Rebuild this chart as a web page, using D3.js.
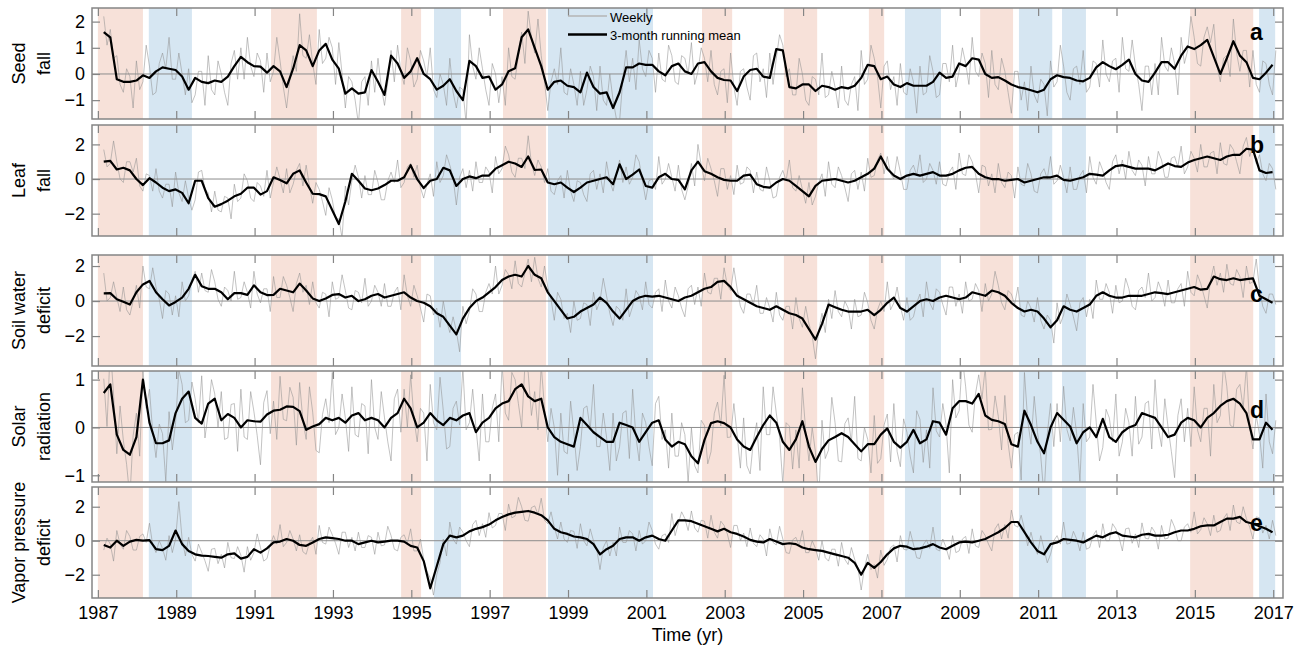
<!DOCTYPE html>
<html>
<head>
<meta charset="utf-8">
<script src="https://cdn.jsdelivr.net/npm/d3@7"></script>
<style>
  body { margin: 0; background: #fff; }
  text { font-family: "Liberation Sans", Arial, Helvetica, sans-serif; }
</style>
</head>
<body>
<div id="chart"></div>
<script>
// sampling of the two series, in decimal years
const meanStart = 1987.15, meanStep = 1 / 6;
const weeklyStart = 1987.15, weeklyStep = 1 / 12;

// 3-month running means (one value every 2 months)
const seedMean = [1.6,1.4,-0.2,-0.3,-0.3,-0.25,-0.05,-0.15,0.1,0.25,
0.2,0.15,-0.1,-0.6,-0.15,-0.3,-0.35,-0.25,-0.3,-0.1,
0.3,0.65,0.45,0.3,0.28,0.05,0.3,0.1,-0.5,0.2,
1.1,0.9,0.3,0.9,1.15,0.55,0.2,-0.75,-0.55,-0.75,
-0.7,0.15,-0.3,-0.8,0.7,0.4,-0.15,0.1,0.6,0.0,
-0.2,-0.6,-0.45,-0.2,-0.65,-1.0,0.5,0.3,-0.15,-0.1,
-0.6,-0.4,0.1,0.22,1.4,1.7,1.0,0.3,-0.6,-0.3,
-0.25,-0.45,-0.5,-0.7,0.05,-0.5,-0.75,-0.7,-1.3,-0.7,
0.25,0.25,0.4,0.35,0.35,0.1,-0.05,0.3,0.4,0.1,
0.0,0.4,0.45,0.1,-0.15,-0.23,-0.25,-0.65,-0.1,0.15,
0.2,-0.1,-0.15,0.95,0.9,-0.5,-0.55,-0.4,-0.4,-0.65,
-0.45,-0.5,-0.6,-0.5,-0.55,-0.45,-0.15,0.35,0.3,-0.2,
-0.1,-0.4,-0.5,-0.35,-0.45,-0.45,-0.45,-0.3,0.05,-0.15,
-0.1,0.4,0.3,0.6,0.55,0.0,-0.15,-0.12,-0.25,-0.4,
-0.5,-0.55,-0.62,-0.7,-0.6,-0.2,-0.05,-0.12,-0.15,-0.25,
-0.28,-0.15,0.25,0.45,0.3,0.18,0.35,0.55,0.0,-0.25,
-0.3,0.05,0.45,0.45,0.2,0.7,1.05,0.95,1.1,1.3,
0.65,0.0,0.6,1.25,0.7,0.45,-0.15,-0.2,0.05,0.35];

const leafMean = [1.0,1.05,0.55,0.65,0.5,0.0,-0.35,0.05,-0.2,-0.5,
-0.7,-0.6,-0.8,-1.4,-0.1,-0.1,-1.1,-1.6,-1.45,-1.25,
-1.0,-0.85,-0.5,-0.5,-0.9,-0.7,0.1,-0.06,-0.25,0.3,
0.5,-0.2,-0.85,-0.87,-1.0,-1.8,-2.6,-1.3,0.3,-0.1,
-0.55,-0.65,-0.55,-0.35,-0.1,-0.1,0.1,0.8,0.0,-0.52,
-0.1,0.0,0.65,0.5,-0.4,0.0,0.15,0.05,0.2,0.2,
0.6,0.8,1.0,0.9,0.7,1.3,0.52,0.55,-0.2,-0.3,
-0.2,-0.5,-0.75,-0.5,-0.2,-0.1,0.0,0.1,-0.3,0.85,
0.0,0.25,0.55,-0.4,-0.5,0.1,0.3,0.0,-0.05,-0.6,
0.5,1.0,0.45,0.3,0.1,-0.05,-0.1,-0.1,0.2,0.25,
-0.3,-0.45,-0.5,-0.2,0.0,-0.1,-0.4,-0.7,-1.0,-0.4,
-0.1,-0.05,0.0,-0.1,-0.2,-0.1,0.1,0.3,0.6,1.3,
0.6,0.2,0.0,0.2,0.3,0.2,0.3,0.4,0.2,0.2,
0.3,0.5,0.65,0.7,0.3,0.1,0.0,0.0,-0.1,-0.05,
0.0,-0.2,-0.1,0.0,0.1,0.1,0.2,-0.05,-0.1,0.0,
0.1,0.3,0.25,0.2,0.5,0.75,0.8,0.7,0.6,0.6,
0.6,0.5,0.7,0.9,0.75,0.7,0.95,1.1,1.2,1.3,
1.2,1.1,1.3,1.4,1.4,1.75,1.7,0.5,0.35,0.4];

const soilMean = [0.44,0.45,0.1,-0.04,-0.2,0.5,0.95,1.15,0.5,0.1,
-0.25,-0.05,0.2,0.7,1.5,0.85,0.7,0.7,0.5,0.1,
0.45,0.45,0.35,0.9,0.5,0.34,0.35,0.7,0.6,0.5,
1.0,0.6,0.15,0.0,0.15,0.35,0.4,0.2,0.3,0.0,
0.1,0.3,0.4,0.2,0.3,0.4,0.5,0.2,0.0,-0.1,
-0.3,-0.7,-0.9,-1.4,-1.9,-1.0,-0.4,0.0,0.2,0.5,
0.8,1.2,1.4,1.5,1.4,2.0,1.5,1.3,0.5,0.0,
-0.5,-1.0,-0.9,-0.6,-0.4,-0.2,0.2,-0.1,-0.6,-1.0,
-0.5,0.0,0.2,0.3,0.25,0.3,0.2,0.1,0.0,0.2,
0.3,0.5,0.7,0.8,1.1,1.15,0.8,0.3,0.1,-0.1,
-0.3,-0.4,-0.5,-0.3,-0.5,-0.7,-0.8,-1.0,-1.6,-2.2,
-1.3,-0.2,-0.35,-0.5,-0.6,-0.6,-0.6,-0.5,-0.8,-0.5,
-0.1,0.2,-0.4,-0.6,-0.3,0.0,0.1,0.0,0.2,0.3,
0.2,0.1,0.2,0.5,0.4,0.3,0.6,0.5,0.3,-0.1,
-0.4,-0.6,-0.5,-0.6,-1.0,-1.5,-1.1,-0.3,-0.5,-0.6,
-0.4,-0.2,0.3,0.5,0.3,0.2,0.2,0.3,0.3,0.3,
0.4,0.5,0.45,0.4,0.5,0.6,0.7,0.8,0.65,0.7,
1.4,1.25,1.2,1.3,1.2,1.25,1.3,0.3,0.1,-0.1];

const solarMean = [0.72,0.9,-0.15,-0.47,-0.57,-0.2,1.0,0.1,-0.33,-0.33,
-0.27,0.3,0.6,0.75,0.2,0.08,0.5,0.6,0.15,0.28,
0.2,0.0,0.15,0.13,0.12,0.27,0.35,0.37,0.44,0.43,
0.34,-0.05,0.02,0.07,0.2,0.15,0.2,0.1,0.25,0.3,
0.15,0.2,0.15,0.0,0.2,0.3,0.6,0.4,0.0,0.1,
0.3,0.15,0.05,0.2,0.15,0.25,0.3,-0.1,0.1,0.2,
0.4,0.5,0.55,0.8,0.9,0.65,0.55,0.6,0.0,-0.2,
-0.3,-0.35,-0.4,0.2,0.05,-0.1,-0.2,-0.3,-0.3,0.1,
0.05,0.0,-0.3,-0.1,0.1,0.15,-0.25,-0.4,-0.3,-0.35,
-0.6,-0.75,-0.26,0.09,0.13,0.09,0.0,-0.25,-0.4,-0.47,
-0.2,0.05,0.25,0.1,-0.3,-0.47,-0.25,0.13,-0.4,-0.72,
-0.45,-0.27,-0.2,-0.12,-0.2,-0.35,-0.5,-0.35,-0.35,-0.15,
-0.02,-0.3,-0.42,-0.3,-0.05,-0.33,-0.25,0.13,0.1,-0.15,
0.4,0.55,0.55,0.5,0.7,0.25,0.16,0.13,0.07,-0.35,
-0.4,0.35,0.05,-0.3,-0.54,0.0,0.3,0.16,0.02,-0.33,
-0.1,0.0,-0.2,0.18,-0.2,-0.3,-0.1,0.0,0.05,0.3,
0.25,0.2,0.0,-0.2,-0.15,0.1,0.2,0.15,0.0,0.2,
0.3,0.45,0.55,0.6,0.5,0.3,-0.25,-0.25,0.1,-0.05];

const vpdMean = [-0.25,-0.4,0.0,-0.3,-0.05,0.05,0.0,0.03,-0.5,-0.55,
-0.3,0.6,-0.2,-0.6,-0.8,-0.88,-0.9,-0.95,-1.0,-0.8,
-0.75,-1.05,-0.95,-0.5,-0.7,-0.45,-0.1,-0.05,0.1,0.0,
-0.25,-0.3,-0.1,0.1,0.2,0.15,0.1,0.0,0.0,-0.2,
-0.1,0.0,-0.1,-0.05,0.0,0.0,-0.05,-0.3,-0.4,-1.2,
-2.8,-1.5,-0.2,0.3,0.2,0.3,0.55,0.7,0.8,0.95,
1.2,1.4,1.55,1.65,1.7,1.75,1.65,1.5,1.2,0.7,
0.5,0.4,0.25,0.2,0.1,-0.2,-0.8,-0.5,-0.3,0.1,
0.2,0.2,0.0,0.2,0.3,0.1,0.0,0.6,1.2,1.2,
1.15,1.0,0.85,0.7,0.55,0.7,0.5,0.4,0.25,0.05,
-0.05,-0.1,0.1,-0.05,-0.2,-0.15,-0.2,-0.4,-0.5,-0.55,
-0.6,-0.7,-0.8,-0.9,-1.0,-1.3,-2.0,-1.3,-1.6,-1.25,
-0.8,-0.45,-0.3,-0.35,-0.5,-0.45,-0.35,-0.2,-0.4,-0.5,
-0.3,-0.1,-0.05,-0.1,0.0,0.1,0.3,0.5,0.75,1.1,
1.1,0.5,-0.1,-0.6,-0.8,-0.2,-0.1,0.1,0.05,0.0,
-0.1,0.1,0.3,0.2,0.4,0.5,0.3,0.25,0.2,0.35,
0.4,0.3,0.3,0.35,0.5,0.6,0.6,0.7,0.85,0.9,
0.9,1.1,1.3,1.3,1.4,1.1,1.0,0.85,0.7,0.5];

// weekly anomalies, thinned to one value per month
const seedWeekly = [2.2,1.1,1.7,0.6,0.7,-0.4,-0.7,0.2,-0.1,-1.3,0.5,-0.6,-0.3,1.1,0.3,-0.8,-0.7,0.4,0.8,0.2,
1.4,-0.2,-0.2,0.8,0.0,-0.8,0.2,-1.1,-0.8,0.1,0.1,-1.2,0.7,-0.6,-0.8,0.5,0.0,-0.7,-1.2,0.4,
0.9,-0.2,1.0,-0.2,1.4,0.3,-0.1,0.8,0.5,-0.7,0.8,-0.3,0.1,1.4,0.5,-0.5,-1.3,-0.2,0.7,0.1,
2.3,0.7,0.6,1.5,0.4,-0.4,1.7,0.4,0.6,1.4,1.0,-0.4,1.2,0.0,-1.3,-0.1,-0.3,-1.0,-1.9,-0.3,
-0.1,-1.2,0.5,-0.7,0.6,-0.5,-1.2,-0.3,0.9,-0.3,1.1,0.1,-0.4,1.0,0.5,-0.5,-0.2,0.9,0.5,-0.1,
1.0,-0.6,-0.9,0.0,-0.4,-1.2,0.6,-0.7,-1.3,-0.5,-0.6,-1.9,1.5,0.3,-0.2,1.0,0.2,-0.6,-1.2,0.4,
0.0,-1.1,-0.1,-1.2,1.0,-0.1,-0.2,0.7,1.6,0.4,2.4,1.4,0.8,2.1,0.7,-0.3,-1.4,-0.3,0.2,-0.4,
1.0,-0.7,-0.8,0.2,-0.4,-1.2,0.1,-1.2,-0.6,0.3,-0.1,-1.4,0.3,-1.0,-1.2,0.0,-1.0,-1.7,-1.8,-0.2,
0.9,-0.3,0.6,-0.6,1.3,0.2,-0.1,0.9,0.6,-0.7,0.8,-0.2,-0.3,1.1,0.7,-0.3,-0.4,0.7,0.6,0.0,
1.2,-0.4,0.1,1.0,0.6,-0.3,0.9,-0.4,-0.8,0.1,0.2,-1.1,0.8,-0.5,-1.2,0.1,0.2,-0.5,-1.0,0.7,
0.8,-0.3,0.2,-0.9,0.8,-0.4,0.6,1.5,1.1,-0.1,0.2,-0.8,-0.8,0.6,0.0,-1.0,-1.2,-0.1,-0.2,-0.8,
0.8,-0.9,-0.8,0.1,-0.5,-1.3,0.3,-1.0,-1.2,-0.4,-0.1,-1.4,0.9,-0.4,-0.2,1.1,0.6,-0.1,-1.3,0.3,
0.5,-0.6,-0.1,-1.2,0.4,-0.7,-0.8,0.2,-0.3,-1.5,0.3,-0.8,-0.7,0.7,0.1,-0.9,-0.8,0.4,0.4,-0.3,
1.1,-0.5,0.1,1.0,0.4,-0.4,1.4,0.1,-0.1,0.8,0.4,-0.9,0.9,-0.4,-0.6,0.6,0.1,-0.7,-1.5,0.1,
0.1,-1.0,-0.3,-1.4,0.3,-0.8,-1.1,-0.2,-0.4,-1.6,0.5,-0.5,-0.3,1.1,0.3,-0.7,-1.0,0.2,0.3,-0.4,
0.9,-0.7,-0.5,0.5,0.4,-0.5,1.3,0.0,-0.3,0.5,0.6,-0.7,1.4,0.2,0.1,1.3,0.3,-0.4,-1.4,0.3,
0.3,-0.8,0.4,-0.8,1.4,0.3,0.1,1.0,0.4,-0.8,1.4,0.4,0.9,2.2,1.4,0.4,0.3,1.4,1.8,1.2,
1.9,0.3,-0.3,0.6,0.7,-0.1,2.1,0.8,0.1,0.9,0.9,-0.5,0.9,-0.4,-0.7,0.5,0.4,-0.4,-0.8,0.9];

const leafWeekly = [1.7,0.7,0.9,2.2,1.0,0.0,-0.2,1.0,1.0,0.4,1.2,-0.4,-0.7,0.3,0.2,-0.7,0.6,-0.7,-1.1,-0.3,
-0.3,-1.6,0.4,-0.8,-1.3,-0.1,-1.1,-1.8,-1.2,0.4,0.5,-0.6,-0.8,-1.9,-0.7,-1.8,-1.9,-1.0,-1.1,-2.3,
-0.3,-1.3,-1.1,0.3,-0.1,-1.1,-1.3,-0.2,-0.4,-1.0,0.5,-1.1,-0.2,0.7,0.0,-0.8,0.6,-0.8,-0.3,0.5,
0.9,-0.4,0.8,-0.4,-1.4,-0.2,-0.6,-1.3,-2.1,-0.5,-1.2,-2.3,-2.3,-3.4,-0.4,-1.5,-0.1,0.8,0.1,-1.1,
0.2,-0.9,-0.9,0.5,-0.2,-1.2,-1.2,-0.1,0.4,-0.2,1.1,-0.5,-0.2,0.7,0.9,0.1,0.8,-0.5,-1.1,-0.3,
0.3,-1.0,1.0,-0.2,0.2,1.4,0.8,0.1,-1.5,0.1,0.6,-0.5,0.5,-0.7,1.0,-0.2,-0.2,0.7,0.4,-0.8,
1.3,0.3,0.6,1.9,1.4,0.4,0.1,1.2,1.2,0.6,2.5,0.9,0.2,1.1,0.7,-0.2,0.6,-0.7,-0.9,-0.1,
0.2,-1.1,0.5,-0.7,-1.3,-0.1,-0.2,-0.9,-1.3,0.3,0.5,-0.6,0.3,-0.8,1.0,-0.1,-0.7,0.2,1.1,-0.2,
0.7,-0.3,0.1,1.4,1.0,-0.1,-1.2,-0.1,0.0,-0.6,1.3,-0.3,0.0,0.9,0.1,-0.7,0.8,-0.6,-1.2,-0.4,
0.9,-0.4,2.0,0.8,-0.1,1.2,0.6,-0.1,-1.0,0.6,0.6,-0.6,0.2,-0.9,0.8,-0.3,-0.2,0.7,0.5,-0.8,
0.4,-0.6,-0.7,0.7,-0.1,-1.1,-1.0,0.1,0.5,-0.1,1.1,-0.5,-0.7,0.2,-0.6,-1.4,-0.2,-1.5,-1.0,-0.2,
0.3,-1.0,1.0,-0.3,-0.5,0.7,0.2,-0.5,-1.3,0.3,0.5,-0.6,0.4,-0.7,1.2,0.1,0.2,1.1,1.5,0.3,
1.3,0.3,0.0,1.3,0.4,-0.6,-0.6,0.5,0.8,0.2,1.4,-0.2,0.0,0.9,0.5,-0.3,1.0,-0.3,-0.4,0.4,
0.7,-0.6,1.5,0.3,0.2,1.4,1.0,0.3,-0.8,0.8,0.7,-0.4,0.3,-0.8,0.9,-0.2,-0.5,0.4,0.2,-1.1,
0.7,-0.3,-0.4,0.9,0.3,-0.7,-0.8,0.3,0.6,0.0,1.3,-0.3,-0.1,0.8,0.1,-0.8,0.7,-0.6,-0.6,0.2,
0.5,-0.8,1.3,0.1,-0.3,1.0,0.5,-0.2,-0.6,1.0,1.4,0.3,1.1,0.0,1.6,0.5,0.2,1.1,0.8,-0.4,
1.3,0.3,0.3,1.6,1.1,0.1,0.1,1.2,1.3,0.7,1.9,0.3,0.7,1.6,1.2,0.4,2.0,0.7,0.7,1.5,
1.6,0.3,2.1,0.9,0.8,2.0,1.7,1.0,0.3,1.9,2.4,1.3,2.0,0.9,1.4,0.3,-0.1,0.9,0.6,-0.6];

const soilWeekly = [1.6,0.0,0.2,1.1,0.2,-0.6,0.8,-0.5,-0.8,0.0,0.9,-0.4,2.0,0.8,0.7,1.9,0.8,0.1,-1.0,0.6,
0.4,-0.8,0.3,-0.9,1.1,0.0,0.3,1.2,1.7,0.5,1.6,0.6,0.5,1.8,1.1,0.1,-0.3,0.8,0.6,0.0,
1.7,0.1,0.2,1.1,0.5,-0.4,1.7,0.4,-0.1,0.7,0.7,-0.6,1.4,0.2,0.2,1.4,0.9,0.2,-0.6,1.0,
1.6,0.5,0.9,-0.2,1.1,-0.1,-0.4,0.5,0.4,-0.9,1.1,0.1,0.2,1.5,0.6,-0.4,-0.5,0.6,0.5,-0.1,
1.3,-0.3,0.0,0.9,0.5,-0.3,1.0,-0.3,-0.3,0.5,0.8,-0.5,1.5,0.3,-0.3,0.9,0.3,-0.4,-1.2,0.4,
0.3,-0.8,-0.4,-1.5,0.0,-1.1,-1.8,-0.9,-1.7,-2.9,-0.3,-1.3,-0.6,0.7,0.4,-0.6,-0.6,0.5,1.0,0.4,
2.0,0.4,0.9,1.8,1.5,0.7,2.3,1.0,0.8,1.6,2.4,1.1,2.5,1.3,0.8,2.0,0.8,0.1,-1.1,0.5,
0.1,-1.0,-0.7,-1.8,0.0,-1.1,-1.0,-0.1,-0.2,-1.4,0.5,-0.5,0.0,1.3,0.3,-0.7,-1.4,-0.3,-0.5,-1.1,
0.7,-0.9,-0.3,0.6,0.3,-0.5,1.1,-0.2,-0.4,0.5,0.7,-0.6,1.2,0.0,-0.4,0.8,0.3,-0.4,-0.9,0.7,
0.9,-0.2,0.8,-0.3,1.6,0.5,0.4,1.3,1.3,0.1,1.9,0.9,0.6,1.9,0.7,-0.3,-0.7,0.4,0.4,-0.2,
0.9,-0.7,-0.7,0.2,-0.4,-1.2,0.5,-0.8,-1.1,-0.3,-0.3,-1.6,0.2,-1.0,-1.5,-0.3,-1.3,-2.0,-3.3,-1.7,
-0.7,-1.8,0.1,-1.0,0.6,-0.6,-0.9,0.0,-0.4,-1.6,0.1,-0.9,-0.8,0.5,-0.1,-1.1,-1.6,-0.5,0.0,-0.6,
1.1,-0.5,-0.1,0.8,-0.3,-1.1,0.2,-1.1,-0.9,-0.1,0.4,-0.9,1.1,-0.1,-0.5,0.7,0.5,-0.2,-0.8,0.8,
0.8,-0.3,0.4,-0.7,1.1,0.0,0.1,1.0,0.6,-0.6,1.0,0.0,0.4,1.7,0.9,-0.1,-0.5,0.6,0.4,-0.2,
0.8,-0.8,-0.9,0.0,-0.4,-1.2,0.2,-1.1,-1.6,-0.8,-1.1,-2.4,-0.1,-1.3,-0.8,0.4,-0.2,-0.9,-1.7,-0.1,
0.2,-0.9,0.1,-1.0,1.2,0.1,0.1,1.0,0.5,-0.7,0.9,-0.1,0.0,1.3,0.7,-0.3,-0.5,0.6,0.8,0.2,
1.6,0.0,0.2,1.1,0.6,-0.3,1.2,-0.1,-0.1,0.7,1.0,-0.3,1.7,0.5,0.3,1.5,1.0,0.3,-0.4,1.2,
2.0,0.9,1.6,0.5,2.1,1.0,0.9,1.8,1.4,0.2,2.0,1.0,1.1,2.4,0.7,-0.3,-0.7,0.4,0.4,-0.2];

const solarWeekly = [1.02,0.02,1.7,0.7,-0.55,0.45,-0.27,-0.77,-1.47,-0.17,0.3,-0.6,1.2,0.4,0.8,-0.1,-0.63,0.07,-0.13,-1.13,
0.33,-0.47,0.1,1.2,0.9,0.1,0.15,0.95,0.6,0.1,1.08,-0.22,0.3,1.0,0.7,0.0,0.75,-0.25,-0.22,0.48,
0.5,-0.5,0.8,-0.2,-0.25,0.75,0.33,-0.17,-0.78,0.52,0.77,-0.13,0.55,-0.25,1.07,0.17,0.14,0.84,0.63,-0.37,
0.94,0.14,-0.25,0.85,0.32,-0.48,-0.53,0.27,0.6,0.1,1.15,-0.15,0.0,0.7,0.2,-0.5,0.85,-0.15,-0.2,0.5,
0.45,-0.55,1.0,0.0,-0.25,0.75,0.2,-0.3,-0.7,0.6,0.8,-0.1,0.8,0.0,1.1,0.2,-0.3,0.4,0.3,-0.7,
0.9,0.1,-0.05,1.05,0.35,-0.45,-0.4,0.4,0.55,0.05,1.25,-0.05,0.1,0.8,0.0,-0.7,0.7,-0.3,-0.3,0.4,
0.7,-0.3,1.3,0.3,0.15,1.15,1.0,0.5,0.0,1.3,1.15,0.25,0.75,-0.05,1.3,0.4,-0.3,0.4,0.0,-1.0,
0.3,-0.5,-0.55,0.55,-0.1,-0.9,-0.4,0.4,0.45,-0.05,0.9,-0.4,-0.4,0.3,-0.2,-0.9,0.3,-0.7,-0.4,0.3,
0.35,-0.65,0.8,-0.2,-0.7,0.3,0.1,-0.4,-0.8,0.5,0.65,-0.25,-0.05,-0.85,0.3,-0.6,-0.6,0.1,-0.15,-1.15,
0.0,-0.8,-0.95,0.15,0.04,-0.76,-0.51,0.29,0.53,0.03,1.09,-0.21,-0.2,0.5,-0.15,-0.85,0.2,-0.8,-0.97,-0.27,
0.1,-0.9,0.85,-0.15,-0.15,0.85,0.3,-0.2,-1.2,0.1,0.03,-0.87,-0.05,-0.85,0.83,-0.07,-0.7,0.0,-0.52,-1.52,
0.15,-0.65,-0.47,0.63,0.1,-0.7,-0.72,0.08,0.2,-0.3,0.65,-0.65,-0.7,0.0,-0.25,-0.95,0.25,-0.75,-0.65,0.05,
0.28,-0.72,0.5,-0.5,-0.82,0.18,-0.1,-0.6,-0.95,0.35,0.17,-0.73,-0.05,-0.85,0.83,-0.07,-0.2,0.5,0.05,-0.95,
1.0,0.2,0.35,1.45,0.85,0.05,-0.1,0.7,1.1,0.6,1.25,-0.05,-0.04,0.66,0.23,-0.47,0.67,-0.33,-0.85,-0.15,
-0.1,-1.1,1.15,0.15,-0.35,0.65,-0.1,-0.6,-1.44,-0.14,0.5,-0.4,0.5,-0.3,0.86,-0.04,-0.28,0.42,-0.13,-1.13,
0.5,-0.3,-0.2,0.9,0.1,-0.7,-0.42,0.38,0.2,-0.3,0.7,-0.6,-0.3,0.4,0.1,-0.6,0.65,-0.35,-0.2,0.5,
0.55,-0.45,1.0,0.0,-0.4,0.6,0.0,-0.5,-1.05,0.25,0.6,-0.3,0.4,-0.4,0.85,-0.05,-0.3,0.4,0.4,-0.6,
0.9,0.1,0.25,1.35,0.85,0.05,0.0,0.8,0.9,0.4,1.3,0.0,-0.45,0.25,-0.15,-0.85,0.7,-0.3,-0.55,0.15];

const vpdWeekly = [-0.55,0.15,-0.2,-1.2,0.6,-0.2,-0.5,0.6,0.25,-0.55,-0.55,0.25,0.4,-0.1,1.03,-0.27,-0.7,0.0,-0.45,-1.15,
0.3,-0.7,0.1,2.3,0.1,-0.9,0.2,-0.8,-1.2,-0.2,-0.68,-1.18,-1.8,-0.5,-0.45,-1.35,-0.8,-1.6,-0.1,-1.0,
-1.05,-0.35,-0.85,-1.85,-0.35,-1.15,-0.7,0.4,-0.4,-1.2,-1.05,-0.25,0.3,-0.2,0.95,-0.35,-0.1,0.6,0.1,-0.6,
0.35,-0.65,-0.8,-0.1,0.2,-0.8,0.9,-0.1,-0.2,0.8,0.35,-0.15,-0.8,0.5,0.5,-0.4,0.2,-0.6,0.5,-0.4,
-0.4,0.3,0.2,-0.8,0.5,-0.3,-0.25,0.85,0.3,-0.5,-0.6,0.2,0.35,-0.15,0.7,-0.6,-0.6,0.1,-1.1,-1.8,
-2.2,-3.2,-2.0,-1.3,0.1,-0.9,1.1,0.1,-0.2,0.8,0.5,0.0,-0.35,0.95,1.2,0.3,1.0,0.2,1.65,0.75,
0.9,1.6,1.6,0.6,2.15,1.35,1.45,2.55,2.0,1.2,1.15,1.95,2.05,1.55,2.5,1.2,1.0,1.7,0.8,0.1,
1.1,0.1,-0.1,0.6,0.55,-0.45,1.0,0.0,-0.3,0.7,0.0,-0.5,-1.7,-0.4,0.0,-0.9,-0.1,-0.9,0.8,-0.1,
-0.1,0.6,0.4,-0.6,0.6,-0.2,0.0,1.1,0.6,-0.2,-0.5,0.3,0.4,-0.1,1.6,0.3,1.0,1.7,1.3,0.6,
1.75,0.75,0.5,1.2,1.15,0.15,1.5,0.5,0.15,1.15,0.9,0.4,-0.4,0.9,0.9,0.0,0.45,-0.35,0.75,-0.15,
-0.35,0.35,0.1,-0.9,0.7,-0.1,-0.25,0.85,0.1,-0.7,-0.75,0.05,0.2,-0.3,0.6,-0.7,-0.7,0.0,-0.45,-1.15,
0.0,-1.0,-1.2,-0.5,-0.5,-1.5,-0.1,-1.1,-1.4,-0.4,-1.1,-1.6,-2.9,-1.6,-0.8,-1.7,-1.4,-2.2,-0.55,-1.45,
-1.1,-0.4,-0.25,-1.25,0.3,-0.5,-0.55,0.55,-0.2,-1.0,-1.05,-0.25,0.05,-0.45,0.8,-0.5,-0.6,0.1,-0.4,-1.1,
0.3,-0.7,-0.6,0.1,0.25,-0.75,0.7,-0.3,-0.4,0.6,0.3,-0.2,-0.6,0.7,1.0,0.1,0.95,0.15,1.8,0.9,
0.8,1.5,0.7,-0.3,0.5,-0.3,-0.8,0.3,-0.5,-1.3,-0.8,0.0,0.3,-0.2,1.1,-0.2,-0.15,0.55,0.1,-0.6,
0.5,-0.5,-0.4,0.3,0.6,-0.4,1.0,0.0,0.0,1.0,0.7,0.2,-0.6,0.7,0.75,-0.15,0.4,-0.4,1.05,0.15,
0.1,0.8,0.5,-0.5,0.9,0.1,0.15,1.25,0.8,0.0,0.0,0.8,1.0,0.5,1.7,0.4,0.65,1.35,1.0,0.3,
1.5,0.5,0.6,1.3,1.6,0.6,2.1,1.1,1.0,2.0,1.3,0.8,0.1,1.4,1.35,0.45,0.9,0.1,1.2,0.3];

// ENSO phases shaded in every panel [start, end] in years
const elNino = [[1987.0,1988.15],[1991.42,1992.59],[1994.74,1995.25],[1997.34,1998.44],[2002.42,2003.19],
  [2004.51,2005.36],[2006.68,2007.07],[2009.52,2010.36],[2014.88,2016.49]];
const laNina = [[1988.3,1989.4],[1995.58,1996.27],[1998.49,2001.17],[2007.6,2008.52],
  [2010.51,2011.36],[2011.61,2012.22],[2016.64,2017.05]];

const yearTicks = d3.range(1987, 2018, 2);

const w = 1304, h = 654;
const left = 92, right = 1283;

const panels = [
  { id: 'a', label: ['Seed', 'fall'], mean: seedMean, weekly: seedWeekly, top: 8, bottom: 119, dom: [-1.72, 2.52], ticks: [-1, 0, 1, 2], letterY: 40 },
  { id: 'b', label: ['Leaf', 'fall'], mean: leafMean, weekly: leafWeekly, top: 125, bottom: 236, dom: [-3.29, 3.12], ticks: [-2, 0, 2], letterY: 153 },
  { id: 'c', label: ['Soil water', 'deficit'], mean: soilMean, weekly: soilWeekly, top: 255, bottom: 366, dom: [-3.71, 2.63], ticks: [-2, 0, 2], letterY: 302 },
  { id: 'd', label: ['Solar', 'radiation'], mean: solarMean, weekly: solarWeekly, top: 371, bottom: 482, dom: [-1.14, 1.18], ticks: [-1, 0, 1], letterY: 418 },
  { id: 'e', label: ['Vapor pressure', 'deficit'], mean: vpdMean, weekly: vpdWeekly, top: 487, bottom: 598, dom: [-3.37, 3.16], ticks: [-2, 0, 2], letterY: 531 }
];

const frameColor = '#858585';

const svg = d3.select('#chart')
  .append('svg')
  .attr('width', w)
  .attr('height', h);

const x = d3.scaleLinear().domain([1986.85, 2017.25]).range([left, right]);
const fmt = v => v < 0 ? '\u2212' + Math.abs(v) : String(v);

panels.forEach(p => {
  const y = d3.scaleLinear().domain(p.dom).range([p.bottom, p.top]);
  const g = svg.append('g').attr('class', 'panel-' + p.id);

  g.append('clipPath')
    .attr('id', 'clip-' + p.id)
    .append('rect')
    .attr('x', left).attr('y', p.top)
    .attr('width', right - left).attr('height', p.bottom - p.top);

  const body = g.append('g').attr('clip-path', `url(#clip-${p.id})`);

  // shaded El Nino / La Nina periods
  body.selectAll('rect.nino')
    .data(elNino)
    .enter()
    .append('rect')
    .attr('x', d => x(d[0]))
    .attr('width', d => x(d[1]) - x(d[0]))
    .attr('y', p.top)
    .attr('height', p.bottom - p.top)
    .attr('fill', '#f7e1d9');

  body.selectAll('rect.nina')
    .data(laNina)
    .enter()
    .append('rect')
    .attr('x', d => x(d[0]))
    .attr('width', d => x(d[1]) - x(d[0]))
    .attr('y', p.top)
    .attr('height', p.bottom - p.top)
    .attr('fill', '#d6e6f2');

  // zero line
  body.append('line')
    .attr('x1', left).attr('x2', right)
    .attr('y1', y(0)).attr('y2', y(0))
    .attr('stroke', '#8c8c8c')
    .attr('stroke-width', 1);

  const weeklyLine = d3.line()
    .x((d, i) => x(weeklyStart + i * weeklyStep))
    .y(d => y(d));

  body.append('path')
    .datum(p.weekly)
    .attr('d', weeklyLine)
    .attr('fill', 'none')
    .attr('stroke', '#8f8f8f')
    .attr('stroke-opacity', 0.6)
    .attr('stroke-width', 0.9);

  const meanLine = d3.line()
    .x((d, i) => x(meanStart + i * meanStep))
    .y(d => y(d));

  body.append('path')
    .datum(p.mean)
    .attr('d', meanLine)
    .attr('fill', 'none')
    .attr('stroke', '#000')
    .attr('stroke-width', 2.2)
    .attr('stroke-linejoin', 'round');

  // inward ticks on all four sides
  const tickAxes = [
    [d3.axisBottom(x).tickValues(yearTicks), `translate(0,${p.top})`],
    [d3.axisTop(x).tickValues(yearTicks), `translate(0,${p.bottom})`],
    [d3.axisRight(y).tickValues(p.ticks), `translate(${left},0)`],
    [d3.axisLeft(y).tickValues(p.ticks), `translate(${right},0)`]
  ];
  tickAxes.forEach(([ax, tr]) => {
    const a = g.append('g')
      .attr('transform', tr)
      .call(ax.tickSize(8).tickFormat(''));
    a.select('.domain').remove();
    a.selectAll('line').attr('stroke', frameColor).attr('stroke-width', 1.2);
  });

  // y tick labels
  const yl = g.append('g')
    .attr('transform', `translate(${left},0)`)
    .call(d3.axisLeft(y).tickValues(p.ticks).tickSize(0).tickPadding(7).tickFormat(fmt));
  yl.select('.domain').remove();
  yl.selectAll('text')
    .style('font-size', '18px')
    .style('font-family', '"Liberation Sans", Arial, sans-serif')
    .attr('fill', '#000');

  // frame
  g.append('rect')
    .attr('x', left).attr('y', p.top)
    .attr('width', right - left).attr('height', p.bottom - p.top)
    .attr('fill', 'none')
    .attr('stroke', frameColor)
    .attr('stroke-width', 1.5);

  // y title, two lines
  const cy = (p.top + p.bottom) / 2;
  p.label.forEach((t, k) => {
    g.append('text')
      .attr('transform', `translate(${25 + k * 25},${cy}) rotate(-90)`)
      .attr('text-anchor', 'middle')
      .style('font-size', '18px')
      .text(t);
  });

  // panel letter
  g.append('text')
    .attr('x', 1250)
    .attr('y', p.letterY)
    .style('font-size', '23px')
    .style('font-weight', 'bold')
    .text(p.id);
});

// year labels under the last panel
const xl = svg.append('g')
  .attr('transform', `translate(0,${panels[4].bottom})`)
  .call(d3.axisBottom(x).tickValues(yearTicks).tickSize(0).tickPadding(8).tickFormat(d3.format('d')));
xl.select('.domain').remove();
xl.selectAll('text')
  .style('font-size', '18px')
  .style('font-family', '"Liberation Sans", Arial, sans-serif')
  .attr('fill', '#000');

svg.append('text')
  .attr('x', (left + right) / 2)
  .attr('y', 641)
  .attr('text-anchor', 'middle')
  .style('font-size', '18px')
  .text('Time (yr)');

// legend
const legend = svg.append('g').attr('id', 'legend');
legend.append('line')
  .attr('x1', 568).attr('x2', 607).attr('y1', 16).attr('y2', 16)
  .attr('stroke', '#b5b5b5').attr('stroke-width', 1.3);
legend.append('text')
  .attr('x', 610).attr('y', 22)
  .style('font-size', '13px')
  .text('Weekly');
legend.append('line')
  .attr('x1', 568).attr('x2', 607).attr('y1', 34.5).attr('y2', 34.5)
  .attr('stroke', '#000').attr('stroke-width', 2.5);
legend.append('text')
  .attr('x', 610).attr('y', 39.5)
  .style('font-size', '13px')
  .text('3-month running mean');
</script>
</body>
</html>
